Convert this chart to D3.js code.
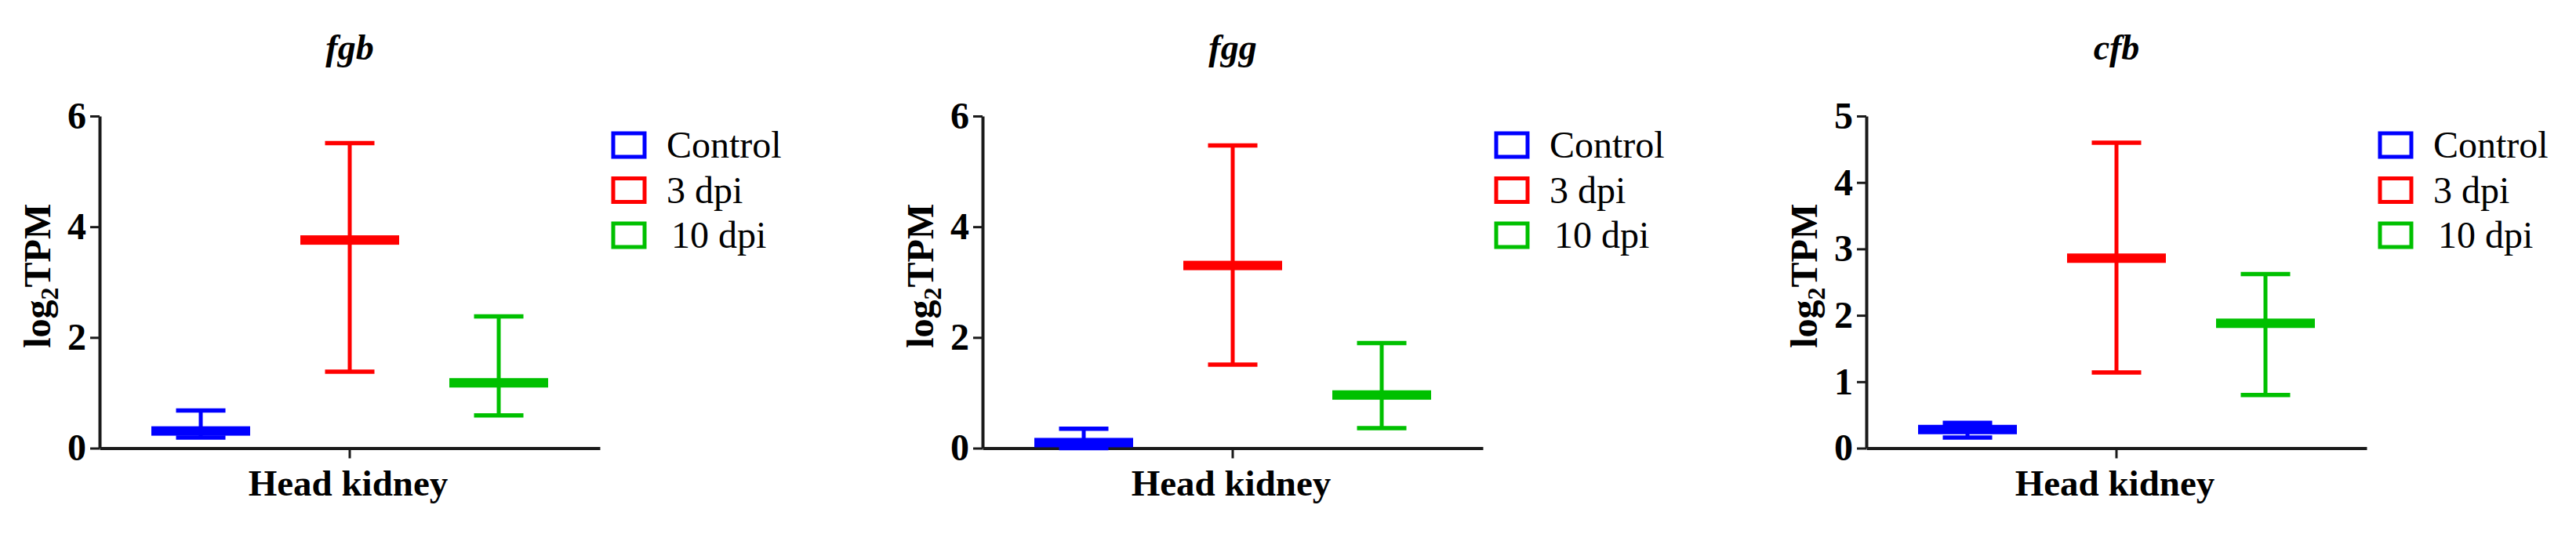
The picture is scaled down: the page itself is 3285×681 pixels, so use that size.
<!DOCTYPE html>
<html>
<head>
<meta charset="utf-8">
<script src="https://cdn.jsdelivr.net/npm/d3@7"></script>
<style>
  html, body { margin: 0; padding: 0; background: #ffffff; }
  svg { display: block; }
  text { font-family: "Liberation Serif", "Times New Roman", serif; fill: #000; }
</style>
</head>
<body>
<svg id="chart" width="3285" height="681"></svg>
<script>
// ---------- DATA ----------
const genes = ["fgb", "fgg", "cfb"];
const tissue = ["Head kidney"];
const groups = ["Control", "3 dpi", "10 dpi"];
const groupColors = ["#0000ff", "#ff0000", "#00c000"];

const yMaxByGene = [6, 6, 5];
const yTicksFgb = [0, 2, 4, 6];
const yTicksFgg = [0, 2, 4, 6];
const yTicksCfb = [0, 1, 2, 3, 4, 5];

// mean, lower and upper error values per group (Control, 3 dpi, 10 dpi)
const meanFgb = [0.31, 3.76, 1.18];
const lowFgb  = [0.19, 1.38, 0.59];
const highFgb = [0.68, 5.51, 2.38];

const meanFgg = [0.10, 3.30, 0.96];
const lowFgg  = [0.00, 1.51, 0.36];
const highFgg = [0.35, 5.47, 1.90];

const meanCfb = [0.28, 2.86, 1.88];
const lowCfb  = [0.16, 1.14, 0.80];
const highCfb = [0.38, 4.60, 2.62];

const yLabelMain = "log";
const yLabelSub = "2";
const yLabelTail = "TPM";

// ---------- LAYOUT ----------
const panelAxisX = [127, 1253, 2380];
const plotTop = 148, plotBottom = 571.5, plotWidth = 638;
const groupSpread = 190;

const panelData = [
  { gene: genes[0], ticks: yTicksFgb, yMax: yMaxByGene[0], mean: meanFgb, low: lowFgb, high: highFgb },
  { gene: genes[1], ticks: yTicksFgg, yMax: yMaxByGene[1], mean: meanFgg, low: lowFgg, high: highFgg },
  { gene: genes[2], ticks: yTicksCfb, yMax: yMaxByGene[2], mean: meanCfb, low: lowCfb, high: highCfb }
];

const svg = d3.select("#chart");

panelData.forEach((p, pi) => {
  const g = svg.append("g").attr("transform", `translate(${panelAxisX[pi]},0)`);

  const y = d3.scaleLinear().domain([0, p.yMax]).range([plotBottom, plotTop]);
  const x = d3.scaleBand().domain(tissue).range([0, plotWidth]).padding(0);
  const xg = d3.scalePoint().domain(groups).range([-groupSpread, groupSpread]);
  const cx = d => x(tissue[0]) + x.bandwidth() / 2 + xg(d);

  // y axis
  const yAxis = g.append("g")
    .call(d3.axisLeft(y).tickValues(p.ticks).tickFormat(d3.format("d"))
      .tickSize(12).tickSizeOuter(0).tickPadding(5));
  yAxis.select(".domain").attr("stroke", "#1a1a1a").attr("stroke-width", 4);
  yAxis.selectAll(".tick line").attr("stroke", "#1a1a1a").attr("stroke-width", 3);
  yAxis.selectAll(".tick text")
    .attr("font-family", "Liberation Serif, Times New Roman, serif")
    .attr("font-weight", "bold").attr("font-size", 48).attr("fill", "#000");

  // x axis
  const xAxis = g.append("g").attr("transform", `translate(0,${plotBottom})`)
    .call(d3.axisBottom(x).tickSize(13).tickSizeOuter(0).tickFormat(""));
  xAxis.select(".domain").attr("stroke", "#1a1a1a").attr("stroke-width", 4);
  xAxis.selectAll(".tick line").attr("stroke", "#1a1a1a").attr("stroke-width", 3);

  // x label
  g.append("text")
    .attr("x", x(tissue[0]) + x.bandwidth() / 2 - 2)
    .attr("y", 632)
    .attr("text-anchor", "middle")
    .attr("font-weight", "bold").attr("font-size", 47)
    .text(tissue[0]);

  // y label
  const yl = g.append("text")
    .attr("transform", `translate(-80,${(plotTop + plotBottom) / 2 - 8}) rotate(-90)`)
    .attr("text-anchor", "middle")
    .attr("dy", "0.35em")
    .attr("font-weight", "bold").attr("font-size", 48);
  yl.append("tspan").text(yLabelMain);
  yl.append("tspan").attr("font-size", 32).attr("dy", 10).text(yLabelSub);
  yl.append("tspan").attr("dy", -10).text(yLabelTail);

  // title
  g.append("text")
    .attr("x", x(tissue[0]) + x.bandwidth() / 2)
    .attr("y", 76)
    .attr("text-anchor", "middle")
    .attr("font-weight", "bold").attr("font-style", "italic").attr("font-size", 46)
    .text(p.gene);

  // error bars + mean
  const marks = g.append("g").selectAll("g.grp")
    .data(groups.map((gr, i) => ({ gr, i, m: p.mean[i], lo: p.low[i], hi: p.high[i] })))
    .join("g");

  marks.append("line")
    .attr("x1", d => cx(d.gr)).attr("x2", d => cx(d.gr))
    .attr("y1", d => y(d.lo)).attr("y2", d => y(d.hi))
    .attr("stroke", d => groupColors[d.i]).attr("stroke-width", 5);
  marks.append("line")
    .attr("x1", d => cx(d.gr) - 31.5).attr("x2", d => cx(d.gr) + 31.5)
    .attr("y1", d => y(d.hi)).attr("y2", d => y(d.hi))
    .attr("stroke", d => groupColors[d.i]).attr("stroke-width", 5.5);
  marks.append("line")
    .attr("x1", d => cx(d.gr) - 31.5).attr("x2", d => cx(d.gr) + 31.5)
    .attr("y1", d => y(d.lo)).attr("y2", d => y(d.lo))
    .attr("stroke", d => groupColors[d.i]).attr("stroke-width", 5.5);
  marks.append("rect")
    .attr("x", d => cx(d.gr) - 63).attr("width", 126)
    .attr("y", d => y(d.m) - 6).attr("height", 12)
    .attr("fill", d => groupColors[d.i]);

  // legend
  const leg = g.append("g").attr("transform", "translate(655,0)");
  const ly = d3.scalePoint().domain(groups).range([185, 300]);
  groups.forEach((gr, i) => {
    leg.append("rect")
      .attr("x", 0).attr("y", ly(gr) - 15)
      .attr("width", 40).attr("height", 30)
      .attr("fill", "none").attr("stroke", groupColors[i]).attr("stroke-width", 5);
    leg.append("text")
      .attr("x", i === 2 ? 74 : 68).attr("y", ly(gr) + 16)
      .attr("font-size", 48)
      .text(gr);
  });
});
</script>
</body>
</html>
